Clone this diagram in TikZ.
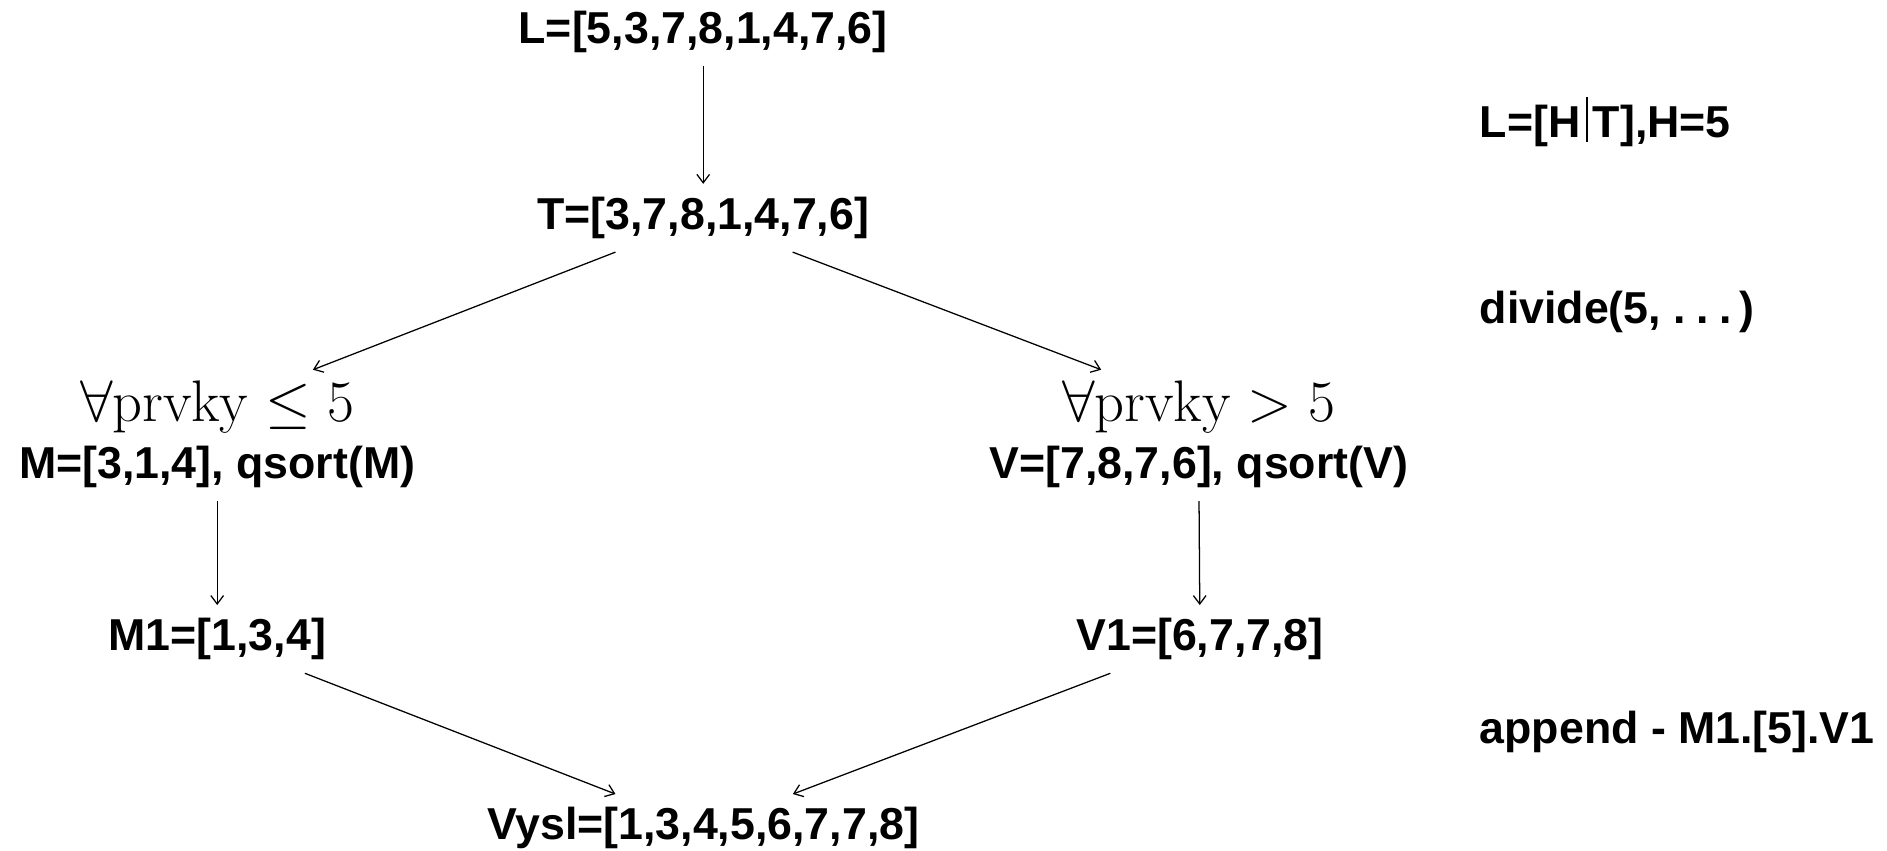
\RequirePackage{fix-cm}
\documentclass[tikz,border=0pt]{standalone}
\usepackage[no-math]{fontspec}
\setmainfont{Liberation Sans}
\usetikzlibrary{arrows.meta}

\tikzset{
  lst/.style={font=\bfseries\fontsize{21.2}{25}\selectfont, inner sep=6pt},
  cond/.style={font=\fontsize{27.8}{32}\selectfont, inner sep=5pt},
  note/.style={lst, anchor=west},
}

\begin{document}
\begin{tikzpicture}[>={Straight Barb[length=4pt,width=6pt]}, line width=0.6pt]
    \useasboundingbox (0,0) rectangle (31.45,14.183);

    \node[lst] (L) at (11.72, 13.65) {L=[5,3,7,8,1,4,7,6]};
    \node[lst] (T) at (11.72, 10.55) {T=[3,7,8,1,4,7,6]};
    \node[cond] (PL) at (3.62, 7.40) {$\forall \mathrm{prvky} \leq 5$};
    \node[lst] (M) at (3.62, 6.40) {M=[3,1,4], qsort(M)};
    \node[cond] (PV) at (19.98, 7.40) {$\forall \mathrm{prvky} > 5$};
    \node[lst] (V) at (19.98, 6.40) {V=[7,8,7,6], qsort(V)};
    \node[lst] (M1) at (3.62, 3.53) {M1=[1,3,4]};
    \node[lst] (V1) at (20.0, 3.53) {V1=[6,7,7,8]};
    \node[lst] (Vysl) at (11.72, 0.38) {Vysl=[1,3,4,5,6,7,7,8]};

    \node[note] (ht) at (24.44, 12.15) {L=[H\kern0.12em\rule[-0.11em]{0.9pt}{1.0em}\kern0.12em T],H=5};
    \node[note] (div) at (24.44, 8.98) {divide(5, .\kern0.24em.\kern0.24em.\kern0.16em)};
    \node[note] (app) at (24.44, 1.98) {append - M1.[5].V1};

    \draw[->] (L) -- (T);
    \draw[->] (T) -- (PL);
    \draw[->] (T) -- (PV);
    \draw[->] (M) -- (M1);
    \draw[->] (V) -- (V1);
    \draw[->] (M1) -- (Vysl);
    \draw[->] (V1) -- (Vysl);

  \end{tikzpicture}
\end{document}
